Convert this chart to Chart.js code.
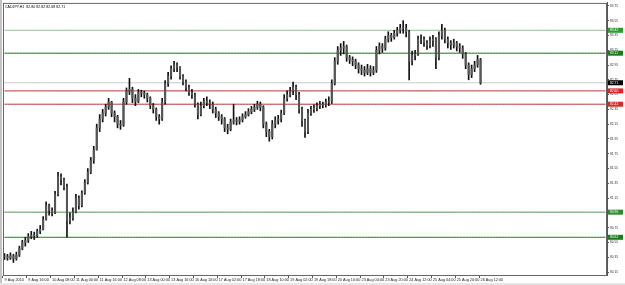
<!DOCTYPE html>
<html>
<head>
<meta charset="utf-8">
<script src="https://cdn.jsdelivr.net/npm/chart.js@4.4.1/dist/chart.umd.min.js"></script>
<style>
html,body{margin:0;padding:0;background:#fff;}
#wrap{width:625px;height:285px;position:relative;}
</style>
</head>
<body>
<div id="wrap"><canvas id="c" width="625" height="285"></canvas></div>
<script>
// ---- data (2-hour slots) ----
const title = "CADJPY,H1  82.80 82.82 82.68 82.71";
const tickLabels = ["9 Aug 2010","9 Aug 16:00","10 Aug 08:00","11 Aug 00:00","11 Aug 16:00","12 Aug 08:00","13 Aug 00:00","13 Aug 16:00","16 Aug 10:00","17 Aug 02:00","17 Aug 18:00","18 Aug 10:00","19 Aug 02:00","19 Aug 18:00","20 Aug 10:00","23 Aug 04:00","23 Aug 20:00","24 Aug 12:00","25 Aug 04:00","25 Aug 20:00","26 Aug 12:00"];
const yTicks = [80.15,80.35,80.55,80.75,80.95,81.15,81.35,81.55,81.75,81.95,82.15,82.35,82.55,82.75,82.95,83.15,83.35,83.55,83.75];
const closes = [80.36,80.34,80.37,80.33,80.38,80.47,80.55,80.58,80.63,80.65,80.64,80.70,80.73,80.86,81.05,80.98,80.95,81.20,81.44,81.40,
81.30,80.85,80.88,80.96,81.15,81.05,81.22,81.36,81.50,81.66,81.80,82.10,82.22,82.30,82.38,82.45,82.30,82.25,82.15,82.14,
82.45,82.60,82.62,82.50,82.46,82.58,82.57,82.55,82.50,82.40,82.35,82.25,82.22,82.45,82.70,82.80,82.90,82.95,82.92,82.80,
82.72,82.65,82.58,82.55,82.42,82.28,82.40,82.46,82.44,82.42,82.35,82.30,82.25,82.22,82.10,82.08,82.18,82.20,82.19,82.21,
82.25,82.28,82.32,82.35,82.38,82.42,82.38,82.15,82.05,81.98,82.15,82.20,82.22,82.30,82.50,82.55,82.60,82.65,82.55,82.35,
82.20,82.05,82.30,82.35,82.37,82.40,82.42,82.41,82.45,82.46,82.70,83.00,83.15,83.18,83.20,83.05,83.02,83.00,82.95,82.90,
82.88,82.85,82.90,82.85,82.88,83.15,83.20,83.18,83.30,83.35,83.32,83.38,83.42,83.45,83.45,83.40,83.00,83.08,83.10,83.30,
83.30,83.25,83.22,83.28,83.30,83.05,83.35,83.42,83.30,83.25,83.22,83.25,83.20,83.18,83.10,82.95,82.82,82.90,82.95,83.02,82.71];
const highs = [80.40,80.39,80.41,80.39,80.42,80.50,80.58,80.62,80.67,80.70,80.69,80.73,80.78,80.90,81.10,81.07,81.02,81.24,81.50,81.48,
81.42,81.34,80.95,81.02,81.20,81.18,81.25,81.40,81.55,81.70,81.85,82.15,82.28,82.35,82.42,82.50,82.46,82.33,82.27,82.20,
82.50,82.64,82.77,82.65,82.55,82.62,82.61,82.60,82.57,82.52,82.43,82.37,82.28,82.50,82.74,82.85,82.94,83.00,82.98,82.93,
82.82,82.75,82.68,82.62,82.57,82.44,82.45,82.50,82.52,82.48,82.45,82.38,82.32,82.28,82.24,82.15,82.22,82.42,82.24,82.25,
82.29,82.32,82.36,82.39,82.42,82.46,82.45,82.40,82.18,82.08,82.20,82.25,82.27,82.34,82.55,82.60,82.65,82.72,82.68,82.58,
82.38,82.22,82.35,82.39,82.41,82.44,82.46,82.45,82.49,82.52,82.75,83.05,83.20,83.24,83.27,83.22,83.08,83.06,83.03,82.98,
82.95,82.93,82.96,82.94,82.93,83.20,83.25,83.24,83.34,83.40,83.38,83.42,83.46,83.50,83.55,83.50,83.42,83.14,83.15,83.34,
83.36,83.33,83.28,83.33,83.35,83.32,83.40,83.50,83.45,83.33,83.28,83.30,83.27,83.24,83.21,83.12,82.98,82.95,83.00,83.08,83.04];
const lows = [80.32,80.31,80.32,80.28,80.31,80.36,80.45,80.50,80.55,80.60,80.59,80.62,80.67,80.72,80.85,80.92,80.91,80.94,81.18,81.33,
81.26,80.62,80.80,80.85,80.95,81.00,81.03,81.20,81.34,81.48,81.62,81.80,82.05,82.18,82.26,82.35,82.25,82.18,82.10,82.08,
82.12,82.42,82.55,82.44,82.40,82.44,82.52,82.50,82.45,82.36,82.30,82.20,82.15,82.20,82.42,82.66,82.76,82.86,82.86,82.76,
82.68,82.60,82.54,82.50,82.38,82.22,82.26,82.37,82.40,82.36,82.30,82.24,82.20,82.15,82.05,82.02,82.06,82.15,82.14,82.15,
82.18,82.23,82.26,82.29,82.32,82.35,82.33,82.10,81.98,81.92,81.95,82.10,82.15,82.18,82.28,82.46,82.52,82.55,82.48,82.30,
82.12,81.97,82.02,82.27,82.31,82.33,82.36,82.37,82.38,82.40,82.43,82.68,82.96,83.08,83.10,83.00,82.97,82.94,82.90,82.84,
82.82,82.80,82.82,82.80,82.82,82.85,83.10,83.12,83.15,83.26,83.27,83.30,83.34,83.38,83.38,83.33,82.75,82.95,83.02,83.08,
83.24,83.20,83.16,83.18,83.20,82.90,83.02,83.30,83.25,83.18,83.16,83.18,83.14,83.12,83.04,82.90,82.75,82.78,82.86,82.92,82.69];
const levelValues = [83.42, 83.11, 82.60, 82.42, 80.96, 80.62];
const levelColors = ["#8dbf8d", "#1e6b1e", "#b83232", "#b83232", "#4f944f", "#1f781f"];
const levelBoxColors = ["#2e9a2e", "#1e7a1e", "#d42a2a", "#d42a2a", "#2e8a2e", "#1e7a1e"];
const lastPrice = 82.71;

// ---- build ----
const nSlots = 203;
const slots = Array.from({length: nSlots}, (_, i) => String(i));
const wickData = lows.map((l, i) => [l, highs[i]]);
const bodyData = closes.map((c, i) => {
  const o = i === 0 ? c : closes[i - 1];
  return [Math.min(o, c), Math.max(o, c) === Math.min(o, c) ? c + 0.005 : Math.max(o, c)];
});

const datasets = [];
levelValues.forEach((v, k) => {
  datasets.push({type: 'line', data: Array(nSlots).fill(v), borderColor: levelColors[k], borderWidth: 1, pointRadius: 0, order: 5});
});
datasets.push({type: 'line', data: Array(nSlots).fill(lastPrice), borderColor: '#c8c8c8', borderWidth: 1, pointRadius: 0, order: 6});
datasets.push({type: 'bar', data: wickData, backgroundColor: '#111', barThickness: 1, grouped: false, order: 1});
datasets.push({type: 'bar', data: bodyData, backgroundColor: '#555', barThickness: 1.4, grouped: false, order: 0});

const decor = {
  id: 'decor',
  beforeDraw(chart) {
    const ctx = chart.ctx;
    ctx.save();
    ctx.fillStyle = '#fff';
    ctx.fillRect(0, 0, 625, 285);
    ctx.fillStyle = '#c4c4c4';
    ctx.fillRect(0, 0, 2, 285);
    ctx.fillStyle = '#e6e6e6';
    ctx.fillRect(0, 283, 625, 2);
    ctx.restore();
  },
  afterDraw(chart) {
    const ctx = chart.ctx, a = chart.chartArea, ys = chart.scales.y;
    ctx.save();
    ctx.strokeStyle = '#666';
    ctx.lineWidth = 1;
    ctx.strokeRect(a.left + 0.5, a.top + 0.5, a.right - a.left - 1, a.bottom - a.top);
    ctx.font = '3.3px "Liberation Sans", Arial';
    ctx.textBaseline = 'middle';
    levelValues.forEach((v, k) => {
      const y = ys.getPixelForValue(v);
      ctx.fillStyle = levelBoxColors[k];
      ctx.fillRect(a.right + 1, y - 2.5, 15, 5);
      ctx.fillStyle = '#fff';
      ctx.fillText(v.toFixed(2), a.right + 3, y);
    });
    const yp = ys.getPixelForValue(lastPrice);
    ctx.fillStyle = '#000';
    ctx.fillRect(a.right + 1, yp - 2.5, 15, 5);
    ctx.fillStyle = '#fff';
    ctx.fillText(lastPrice.toFixed(2), a.right + 3, yp);
    ctx.fillStyle = '#000';
    ctx.font = '3.6px "Liberation Sans", Arial';
    ctx.fillText(title, a.left + 2, a.top + 4);
    ctx.restore();
  }
};

new Chart(document.getElementById('c'), {
  data: {labels: slots, datasets},
  options: {
    responsive: false,
    animation: false,
    events: [],
    layout: {padding: {left: 3, top: 1, right: 0, bottom: 0}},
    plugins: {legend: {display: false}, tooltip: {enabled: false}, title: {display: false}},
    scales: {
      x: {
        type: 'category',
        offset: true,
        afterFit(s) { s.height = 10; },
        grid: {
          offset: true,
          drawOnChartArea: false,
          tickLength: 3,
          color: (c) => (c.index % 8 === 0 && c.index / 8 < tickLabels.length) ? '#555' : 'rgba(0,0,0,0)'
        },
        border: {display: true, color: '#555'},
        ticks: {
          autoSkip: false, maxRotation: 0, minRotation: 0, align: 'start', padding: 0,
          color: '#222', font: {size: 3.8, family: '"Liberation Sans", Arial'},
          callback: (v, i) => (i % 8 === 0 && i / 8 < tickLabels.length) ? tickLabels[i / 8] : ''
        }
      },
      y: {
        position: 'right',
        min: 80.11, max: 83.79,
        afterFit(s) { s.width = 18; },
        afterBuildTicks(s) { s.ticks = yTicks.map(v => ({value: v})); },
        grid: {drawOnChartArea: false, tickLength: 2, color: '#555'},
        border: {display: true, color: '#555'},
        ticks: {
          padding: 1, color: '#333', font: {size: 3.2, family: '"Liberation Sans", Arial'},
          callback: (v) => Number(v).toFixed(2)
        }
      }
    }
  },
  plugins: [decor]
});
</script>
</body>
</html>
